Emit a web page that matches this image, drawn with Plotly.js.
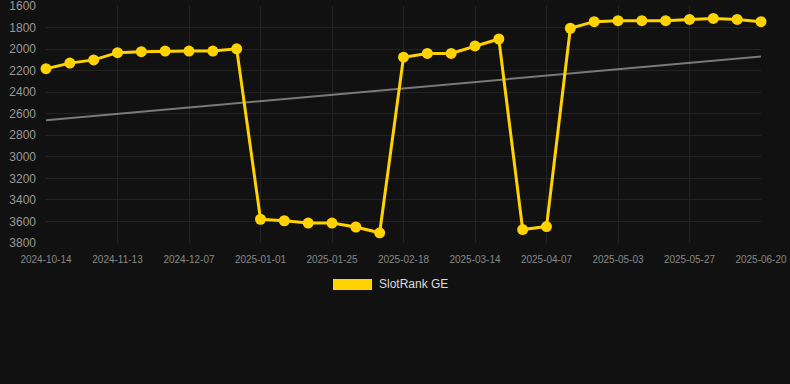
<!DOCTYPE html>
<html>
<head>
<meta charset="utf-8">
<script src="https://cdn.plot.ly/plotly-3.0.1.min.js"></script>
<style>
  html, body { margin: 0; padding: 0; background: #111111; }
  #chart { width: 790px; height: 384px; }
</style>
</head>
<body>
<div id="chart"></div>
<script>
// Category labels (dates)
const dates = [
  "2024-10-14", "2024-10-24", "2024-11-03",
  "2024-11-13", "2024-11-21", "2024-11-29",
  "2024-12-07", "2024-12-15", "2024-12-23",
  "2025-01-01", "2025-01-09", "2025-01-17",
  "2025-01-25", "2025-02-02", "2025-02-10",
  "2025-02-18", "2025-02-26", "2025-03-06",
  "2025-03-14", "2025-03-22", "2025-03-30",
  "2025-04-07", "2025-04-15", "2025-04-23",
  "2025-05-03", "2025-05-11", "2025-05-19",
  "2025-05-27", "2025-06-04", "2025-06-12",
  "2025-06-20"
];

// SlotRank GE rank values
const rankValues = [
  2182, 2130, 2100, 2033, 2024, 2018, 2018, 2018, 1997,
  3580, 3594, 3615, 3615, 3652, 3706,
  2075, 2040, 2040, 1970, 1906,
  3676, 3648,
  1806, 1745, 1736, 1736, 1736, 1724, 1715, 1724, 1745
];

// Tick labels shown on the x axis
const tickLabels = [
  "2024-10-14", "2024-11-13", "2024-12-07", "2025-01-01", "2025-01-25",
  "2025-02-18", "2025-03-14", "2025-04-07", "2025-05-03", "2025-05-27", "2025-06-20"
];

const yTicks = [1600, 1800, 2000, 2200, 2400, 2600, 2800, 3000, 3200, 3400, 3600, 3800];

const seriesName = "SlotRank GE";

// Linear regression trend over the series (by index)
const n = rankValues.length;
let sx = 0, sy = 0, sxy = 0, sxx = 0;
rankValues.forEach((v, i) => { sx += i; sy += v; sxy += i * v; sxx += i * i; });
const slope = (n * sxy - sx * sy) / (n * sxx - sx * sx);
const intercept = (sy - slope * sx) / n;
const trendValues = rankValues.map((_, i) => intercept + slope * i);

const gold = "#FFD200";

const traces = [
  {
    x: dates, y: trendValues, type: "scatter", mode: "lines",
    line: { color: "rgba(140,140,140,0.85)", width: 2 },
    hoverinfo: "skip", showlegend: false
  },
  {
    x: dates, y: rankValues, type: "scatter", mode: "lines+markers",
    name: seriesName,
    line: { color: gold, width: 3 },
    marker: { color: gold, size: 11 },
    cliponaxis: false,
    showlegend: false
  }
];

const layout = {
  width: 790, height: 384,
  paper_bgcolor: "#111111", plot_bgcolor: "#111111",
  margin: { l: 46, r: 29, t: 6, b: 141 },
  font: { family: "Liberation Sans, Arial, sans-serif", color: "#999" },
  xaxis: {
    type: "category",
    range: [0, dates.length - 1],
    tickmode: "array", tickvals: tickLabels, ticktext: tickLabels,
    tickfont: { size: 10, color: "#888" },
    showgrid: true, gridcolor: "#222222", gridwidth: 1,
    zeroline: false, showline: false, ticks: "",
    ticklabelstandoff: 9,
    ticklabeloverflow: "allow"
  },
  yaxis: {
    range: [3800.5, 1599.5],
    tickmode: "array", tickvals: yTicks,
    tickfont: { size: 12, color: "#999" },
    showgrid: true, gridcolor: "#222222", gridwidth: 1,
    zeroline: false, showline: false, ticks: "",
    ticklabelstandoff: 9,
    ticklabeloverflow: "allow"
  },
  shapes: [
    { type: "rect", xref: "paper", yref: "paper",
      x0: 0.4014, x1: 0.4560, y0: -0.1983, y1: -0.1519,
      fillcolor: gold, line: { width: 0 } }
  ],
  annotations: [
    { xref: "paper", yref: "paper", x: 0.4630, y: -0.1751,
      xanchor: "left", yanchor: "middle", showarrow: false,
      text: seriesName, font: { size: 12, color: "#dddddd" } }
  ],
  showlegend: false
};

Plotly.newPlot("chart", traces, layout, { displayModeBar: false, staticPlot: true });
</script>
</body>
</html>
